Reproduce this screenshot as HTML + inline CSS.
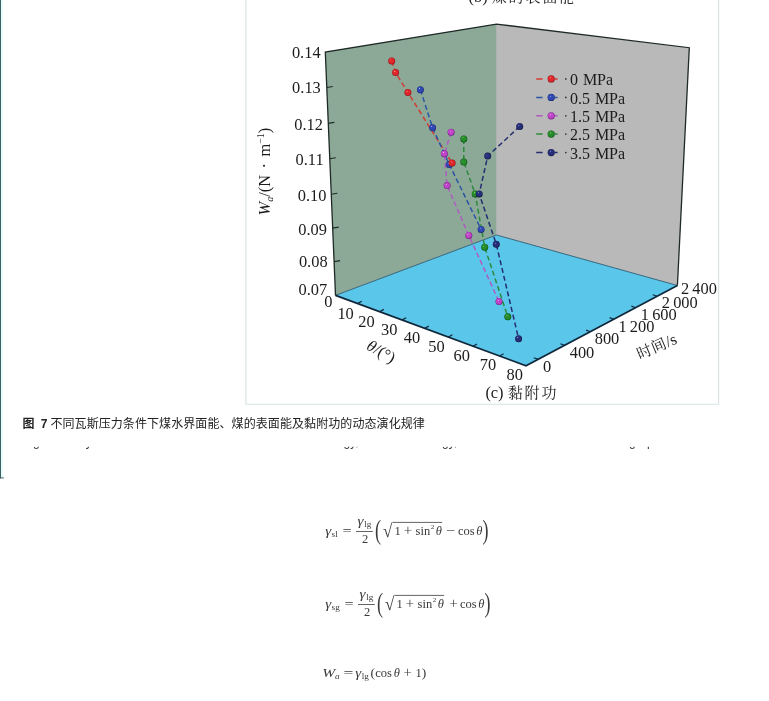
<!DOCTYPE html>
<html lang="zh">
<head>
<meta charset="utf-8">
<title>图 7</title>
<style>
html,body{margin:0;padding:0;background:#fff;}
body{width:769px;height:701px;overflow:hidden;position:relative;}
svg{position:absolute;left:0;top:0;display:block;}
.ser{font-family:"Liberation Serif","Noto Serif CJK SC",serif;}
.cjk{font-family:"Liberation Serif","Noto Serif CJK SC",serif;}
.cap{font-family:"Liberation Sans","Noto Sans CJK SC",sans-serif;}
.fig text{fill:#1c1c1c;}
.math text{fill:#3a3a3a;font-family:"Liberation Serif","DejaVu Serif",serif;}
</style>
</head>
<body>
<svg width="769" height="701" viewBox="0 0 769 701">
<defs>
  <radialGradient id="gR" cx="0.5" cy="0.5" r="0.5" fx="0.36" fy="0.32"><stop offset="0" stop-color="#ffc0b0"/><stop offset="0.22" stop-color="#e0262a"/><stop offset="0.75" stop-color="#e0262a"/><stop offset="1" stop-color="#8c1014"/></radialGradient>
  <radialGradient id="gB" cx="0.5" cy="0.5" r="0.5" fx="0.36" fy="0.32"><stop offset="0" stop-color="#c0ccff"/><stop offset="0.22" stop-color="#3048b4"/><stop offset="0.75" stop-color="#3048b4"/><stop offset="1" stop-color="#182470"/></radialGradient>
  <radialGradient id="gP" cx="0.5" cy="0.5" r="0.5" fx="0.36" fy="0.32"><stop offset="0" stop-color="#ffd0ff"/><stop offset="0.22" stop-color="#c044c8"/><stop offset="0.75" stop-color="#c044c8"/><stop offset="1" stop-color="#6c1c7c"/></radialGradient>
  <radialGradient id="gG" cx="0.5" cy="0.5" r="0.5" fx="0.36" fy="0.32"><stop offset="0" stop-color="#c0ffa0"/><stop offset="0.22" stop-color="#248c28"/><stop offset="0.75" stop-color="#248c28"/><stop offset="1" stop-color="#0c4c12"/></radialGradient>
  <radialGradient id="gN" cx="0.5" cy="0.5" r="0.5" fx="0.36" fy="0.32"><stop offset="0" stop-color="#a8b0ec"/><stop offset="0.22" stop-color="#272e7a"/><stop offset="0.75" stop-color="#272e7a"/><stop offset="1" stop-color="#10143c"/></radialGradient>
  <clipPath id="clipEn"><rect x="0" y="446.7" width="769" height="3.2"/></clipPath>
</defs>

<!-- page chrome -->
<rect x="0" y="0" width="769" height="701" fill="#ffffff"/>
<rect x="0" y="0" width="1" height="478.4" fill="#3a6060"/>
<rect x="0" y="477.4" width="3.8" height="1" fill="#3a6060"/>
<rect x="1" y="0" width="2.4" height="477" fill="#eafcfc"/>
<!-- figure box -->
<path d="M245.9 0 V404.3 H718.6 V0" fill="none" stroke="#d6e4e4" stroke-width="1.1"/>

<g class="fig">
<!-- walls -->
<polygon points="325.3,52.1 496.5,24.1 496.5,235 335.5,295.4" fill="#8ca998"/>
<polygon points="496.5,24.1 689.3,47.7 677.4,285.5 496.5,235" fill="#b9b9b9"/>
<polygon points="335.5,295.4 496.5,235 677.4,285.5 526,365.7" fill="#5ac6ea"/>
<!-- edges -->
<path d="M496.5 24.1 V235" stroke="#a7aeaa" stroke-width="0.8" fill="none"/>
<path d="M335.5 295.4 L496.5 235 L677.4 285.5" stroke="#2c5a70" stroke-width="0.9" fill="none"/>
<path d="M335.5 295.4 L325.3 52.1 L496.5 24.1 L689.3 47.7 L677.4 285.5" stroke="#1f2a26" stroke-width="1.3" fill="none" stroke-linejoin="miter"/>
<path d="M335.5 295.4 L526 365.7 L677.4 285.5" stroke="#10283c" stroke-width="1.7" fill="none" stroke-linejoin="miter"/>
<!-- y ticks -->
<g stroke="#1f2a26" stroke-width="1.1" fill="none">
<path d="M326.8 87.5 l6 -1"/><path d="M328.3 123.4 l6 -1"/><path d="M329.8 158.7 l6 -1"/>
<path d="M331.3 194.3 l6 -1"/><path d="M332.7 228.1 l6 -1"/><path d="M334.1 261.6 l6 -1"/>
</g>
<!-- x ticks -->
<g stroke="#10283c" stroke-width="1.2" fill="none">
<path d="M357.8 303.4 l4 -2.2"/><path d="M379.8 311.6 l4 -2.2"/><path d="M402.2 319.9 l4 -2.2"/>
<path d="M424.8 328.3 l4 -2.2"/><path d="M448.4 337 l4 -2.2"/><path d="M473 346.2 l4 -2.2"/>
<path d="M499.6 356 l4 -2.2"/>
</g>
<!-- time ticks -->
<g stroke="#10283c" stroke-width="1.2" fill="none">
<path d="M538 359.3 l-4.2 -1.6"/><path d="M564.6 345.3 l-4.2 -1.6"/><path d="M590.3 331.7 l-4.2 -1.6"/>
<path d="M613.8 319.2 l-4.2 -1.6"/><path d="M635.6 307.7 l-4.2 -1.6"/><path d="M657 296.3 l-4.2 -1.6"/>
</g>
</g>

<!-- axis labels -->
<g class="fig ser" font-size="16.4">
<g text-anchor="end">
<text x="320.6" y="57.8">0.14</text>
<text x="320.8" y="92.8">0.13</text>
<text x="323" y="130.4">0.12</text>
<text x="323.6" y="165.2">0.11</text>
<text x="326.4" y="200.7">0.10</text>
<text x="326.9" y="234.5">0.09</text>
<text x="327.6" y="267.1">0.08</text>
<text x="327.2" y="295">0.07</text>
</g>
<g text-anchor="middle">
<text x="328.3" y="306.6">0</text>
<text x="345.6" y="318.6">10</text>
<text x="366.4" y="326.5">20</text>
<text x="389.3" y="335">30</text>
<text x="412" y="343.3">40</text>
<text x="436.4" y="351.6">50</text>
<text x="461.8" y="360.8">60</text>
<text x="488" y="370.2">70</text>
<text x="514.8" y="380.3">80</text>
<text x="547.2" y="371.5">0</text>
<text x="582" y="357.6">400</text>
<text x="607" y="343.8">800</text>
<text x="636.4" y="332.1" word-spacing="-1">1 200</text>
<text x="658.8" y="319.8" word-spacing="-1">1 600</text>
<text x="679.8" y="307.7" word-spacing="-1">2 000</text>
<text x="699" y="294.4" word-spacing="-1">2 400</text>
</g>
<text transform="translate(381 352) rotate(30)" text-anchor="middle" y="5"><tspan font-style="italic">θ</tspan>/(°)</text>
<text transform="translate(656.6 346.2) rotate(-23)" text-anchor="middle" y="5.5" font-size="15" letter-spacing="0.5">时间<tspan font-size="16" letter-spacing="0">/s</tspan></text>
<text transform="translate(269.8 171.6) rotate(-90)" text-anchor="middle"><tspan font-style="italic">W</tspan><tspan font-style="italic" font-size="10" dy="3">a</tspan><tspan dy="-3" word-spacing="2.4">/(N · m</tspan><tspan font-size="10" dy="-6">−1</tspan><tspan dy="6">)</tspan></text>
<!-- sub captions -->
<text x="468.5" y="2.4">(b) <tspan font-size="15" letter-spacing="1.9">煤的表面能</tspan></text>
<text x="485.4" y="397.6">(c) <tspan font-size="15" letter-spacing="1.9">黏附功</tspan></text>
</g>

<!-- data -->
<g fill="none" stroke-width="1.5" stroke-dasharray="5 3">
<path d="M391.7 61 L395.6 72.6 L407.9 92.5 L452.1 163.1" stroke="#d23c34"/>
<path d="M420.4 89.7 L432.6 127.8 L449.3 164.5 L481.1 229.4" stroke="#2c56a4"/>
<path d="M451.1 132.2 L444.4 153.7 L447.1 185.6 L468.8 235.4 L499 301.5" stroke="#ae5cc2"/>
<path d="M463.8 138.9 L463.8 162.1 L475.2 193.9 L484.7 247.2 L507.8 316.8" stroke="#2c8a3c"/>
<path d="M519.7 126.4 L487.7 156.1 L479.2 193.9 L496.3 244.2 L518.6 338.8" stroke="#242e70"/>
</g>
<g>
<circle cx="420.4" cy="89.7" r="3.5" fill="url(#gB)"/>
<circle cx="432.6" cy="127.8" r="3.5" fill="url(#gB)"/>
<circle cx="449.3" cy="164.5" r="3.5" fill="url(#gB)"/>
<circle cx="481.1" cy="229.4" r="3.5" fill="url(#gB)"/>
<circle cx="451.1" cy="132.2" r="3.5" fill="url(#gP)"/>
<circle cx="444.4" cy="153.7" r="3.5" fill="url(#gP)"/>
<circle cx="447.1" cy="185.6" r="3.5" fill="url(#gP)"/>
<circle cx="468.8" cy="235.4" r="3.5" fill="url(#gP)"/>
<circle cx="499" cy="301.5" r="3.5" fill="url(#gP)"/>
<circle cx="463.8" cy="138.9" r="3.5" fill="url(#gG)"/>
<circle cx="463.8" cy="162.1" r="3.5" fill="url(#gG)"/>
<circle cx="475.2" cy="193.9" r="3.5" fill="url(#gG)"/>
<circle cx="484.7" cy="247.2" r="3.5" fill="url(#gG)"/>
<circle cx="507.8" cy="316.8" r="3.5" fill="url(#gG)"/>
<circle cx="519.7" cy="126.4" r="3.5" fill="url(#gN)"/>
<circle cx="487.7" cy="156.1" r="3.5" fill="url(#gN)"/>
<circle cx="479.2" cy="193.9" r="3.5" fill="url(#gN)"/>
<circle cx="496.3" cy="244.2" r="3.5" fill="url(#gN)"/>
<circle cx="518.6" cy="338.8" r="3.5" fill="url(#gN)"/>
<circle cx="391.7" cy="61" r="3.5" fill="url(#gR)"/>
<circle cx="395.6" cy="72.6" r="3.5" fill="url(#gR)"/>
<circle cx="407.9" cy="92.5" r="3.5" fill="url(#gR)"/>
<circle cx="452.1" cy="163.1" r="3.5" fill="url(#gR)"/>
</g>
<!-- legend -->
<g class="ser" font-size="16" word-spacing="1">
<path d="M536.2 78.9 h6.4 M554.6 78.9 h3" stroke="#d23c34" stroke-width="1.5" fill="none"/>
<circle cx="551.2" cy="78.9" r="3.6" fill="url(#gR)"/>
<circle cx="565.8" cy="78.9" r="0.85" fill="#333"/>
<text x="569.9" y="85.1" fill="#1c1c1c">0 MPa</text>
<path d="M536.2 97.4 h6.4 M554.6 97.4 h3" stroke="#2c56a4" stroke-width="1.5" fill="none"/>
<circle cx="551.2" cy="97.4" r="3.6" fill="url(#gB)"/>
<circle cx="565.8" cy="97.4" r="0.85" fill="#333"/>
<text x="569.9" y="103.6" fill="#1c1c1c">0.5 MPa</text>
<path d="M536.2 115.8 h6.4 M554.6 115.8 h3" stroke="#ae5cc2" stroke-width="1.5" fill="none"/>
<circle cx="551.2" cy="115.8" r="3.6" fill="url(#gP)"/>
<circle cx="565.8" cy="115.8" r="0.85" fill="#333"/>
<text x="569.9" y="122.0" fill="#1c1c1c">1.5 MPa</text>
<path d="M536.2 134.1 h6.4 M554.6 134.1 h3" stroke="#2c8a3c" stroke-width="1.5" fill="none"/>
<circle cx="551.2" cy="134.1" r="3.6" fill="url(#gG)"/>
<circle cx="565.8" cy="134.1" r="0.85" fill="#333"/>
<text x="569.9" y="140.3" fill="#1c1c1c">2.5 MPa</text>
<path d="M536.2 152.6 h6.4 M554.6 152.6 h3" stroke="#242e70" stroke-width="1.5" fill="none"/>
<circle cx="551.2" cy="152.6" r="3.6" fill="url(#gN)"/>
<circle cx="565.8" cy="152.6" r="0.85" fill="#333"/>
<text x="569.9" y="158.8" fill="#1c1c1c">3.5 MPa</text>
</g>

<!-- caption -->
<g class="cap" font-size="12" fill="#222">
<text x="22.6" y="427.5" font-weight="bold">图</text>
<text x="40.8" y="427.5" font-weight="bold">7</text>
<text x="50.4" y="427.5" letter-spacing="0.08">不同瓦斯压力条件下煤水界面能、煤的表面能及黏附功的动态演化规律</text>
<g clip-path="url(#clipEn)" fill="#333">
<text y="446.3"><tspan x="23">Fig. 7</tspan><tspan x="77">Dynamic</tspan><tspan x="319.5">energy,</tspan><tspan x="418">energy,</tspan><tspan x="629">gas</tspan><tspan x="647">pressures</tspan></text>
</g>
</g>

<!-- formulas -->
<g class="math" font-size="12.5">
<text transform="translate(325.2 534.9) scale(1.22 1)" font-style="italic">γ</text>
<text x="331.6" y="537.0" font-size="9.2">sl</text>
<text transform="translate(342.5 534.9) scale(1.3 1)">=</text>
<text transform="translate(357.6 524.9) scale(1.22 1)" font-style="italic">γ</text>
<text x="364.2" y="526.5" font-size="9.2">lg</text>
<path d="M356.0 531.5 h16.8" stroke="#3a3a3a" stroke-width="0.8" fill="none"/>
<text x="365.0" y="542.7" text-anchor="middle">2</text>
<text transform="translate(375.0 538.5) scale(0.82 1.2)" font-size="22" fill="#4a4a4a">(</text>
<text transform="translate(383.0 537.1) scale(1.35 1.5)">√</text>
<path d="M392.4 522.4 H442.2" stroke="#3a3a3a" stroke-width="0.8" fill="none"/>
<text x="394.6" y="534.9">1</text>
<text transform="translate(403.8 534.9) scale(1.18 1.12)">+</text>
<text x="415.6" y="534.9">sin</text>
<text x="430.8" y="529.3" font-size="7">2</text>
<text x="435.8" y="534.9" font-style="italic">θ</text>
<text transform="translate(445.8 534.9) scale(1.3 1)">−</text>
<text x="457.9" y="534.9">cos</text>
<text x="476.2" y="534.9" font-style="italic">θ</text>
<text transform="translate(482.4 538.5) scale(0.82 1.2)" font-size="22" fill="#4a4a4a">)</text>
<text transform="translate(325.2 607.9) scale(1.22 1)" font-style="italic">γ</text>
<text x="331.6" y="610.0" font-size="9.2">sg</text>
<text transform="translate(344.5 607.9) scale(1.3 1)">=</text>
<text transform="translate(359.6 597.9) scale(1.22 1)" font-style="italic">γ</text>
<text x="366.2" y="599.5" font-size="9.2">lg</text>
<path d="M358.0 604.5 h16.8" stroke="#3a3a3a" stroke-width="0.8" fill="none"/>
<text x="367.0" y="615.7" text-anchor="middle">2</text>
<text transform="translate(377.0 611.5) scale(0.82 1.2)" font-size="22" fill="#4a4a4a">(</text>
<text transform="translate(385.0 610.1) scale(1.35 1.5)">√</text>
<path d="M394.4 595.4 H444.2" stroke="#3a3a3a" stroke-width="0.8" fill="none"/>
<text x="396.6" y="607.9">1</text>
<text transform="translate(405.8 607.9) scale(1.18 1.12)">+</text>
<text x="417.6" y="607.9">sin</text>
<text x="432.8" y="602.3" font-size="7">2</text>
<text x="437.8" y="607.9" font-style="italic">θ</text>
<text transform="translate(449.4 607.9) scale(1.18 1.12)">+</text>
<text x="459.9" y="607.9">cos</text>
<text x="478.2" y="607.9" font-style="italic">θ</text>
<text transform="translate(484.4 611.5) scale(0.82 1.2)" font-size="22" fill="#4a4a4a">)</text>
<text transform="translate(322.2 677.2) scale(1.25 1)" font-style="italic">W</text>
<text x="335" y="679.3" font-size="9.2" font-style="italic">a</text>
<text transform="translate(343.6 677.2) scale(1.4 1)">=</text>
<text transform="translate(355.2 677.2) scale(1.22 1)" font-style="italic">γ</text>
<text x="361.8" y="679.3" font-size="9.2">lg</text>
<text x="370.4" y="677.2" font-size="13.5">(</text>
<text x="375.2" y="677.2">cos</text>
<text x="393.8" y="677.2" font-style="italic">θ</text>
<text transform="translate(403.4 677.2) scale(1.18 1.12)">+</text>
<text x="415.4" y="677.2">1</text>
<text x="421.8" y="677.2" font-size="13.5">)</text>
</g>
</svg>
</body>
</html>
